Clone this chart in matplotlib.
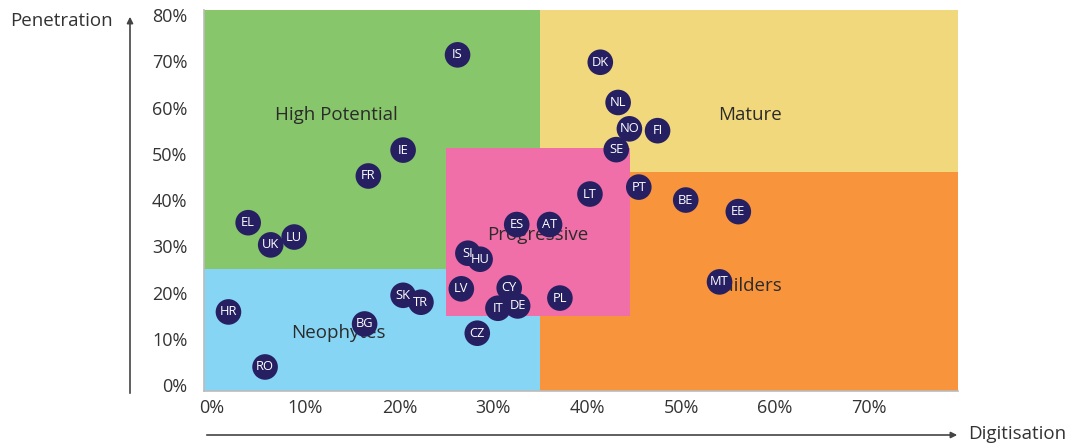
import matplotlib.pyplot as plt
from matplotlib.patches import Rectangle
from matplotlib.ticker import FuncFormatter

plt.rcParams['font.family'] = ['Open Sans', 'DejaVu Sans']

# Country positions: digitisation (x, %) vs penetration (y, %)
countries = ['IS', 'DK', 'NL', 'NO', 'FI', 'SE', 'IE', 'FR', 'LT', 'PT', 'BE', 'EE',
             'EL', 'UK', 'LU', 'ES', 'AT', 'SI', 'HU', 'LV', 'CY', 'IT', 'DE', 'PL',
             'CZ', 'MT', 'HR', 'RO', 'BG', 'SK', 'TR']
digitisation = [26.2, 41.4, 43.3, 44.5, 47.5, 43.1, 20.4, 16.7, 40.3, 45.5, 50.5, 56.1,
                3.9, 6.3, 8.8, 32.5, 36.0, 27.3, 28.6, 26.6, 31.7, 30.5, 32.6, 37.1,
                28.3, 54.1, 1.8, 5.7, 16.3, 20.4, 22.3]
penetration = [71.4, 69.8, 61.1, 55.4, 55.0, 50.9, 50.8, 45.2, 41.3, 42.8, 40.0, 37.5,
               35.1, 30.3, 32.0, 34.7, 34.7, 28.5, 27.2, 20.8, 21.0, 16.6, 17.1, 18.8,
               11.2, 22.3, 15.8, 3.9, 13.2, 19.4, 17.9]

# Segments: name, x range, y range, colour, label position
segments = ['High Potential', 'Mature', 'Builders', 'Neophytes', 'Progressive']
seg_x = [(-0.8, 35), (35, 79.5), (35, 79.5), (-0.8, 35), (25, 44.6)]
seg_y = [(25, 81.1), (46, 81.1), (-1.3, 46), (-1.3, 25), (15, 51.2)]
seg_colors = ['#87C66B', '#F2D87C', '#F7943C', '#87D5F5', '#F16FA9']
seg_label_pos = [(13.3, 58.4), (57.3, 58.4), (56.9, 21.4), (13.5, 11.2), (34.7, 32.4)]

fig = plt.figure(figsize=(10.75, 4.48), dpi=100)
ax = fig.add_axes([0.1898, 0.1272, 0.7014, 0.8505])

for name, (x0, x1), (y0, y1), c, (lx, ly) in zip(segments, seg_x, seg_y, seg_colors, seg_label_pos):
    ax.add_patch(Rectangle((x0, y0), x1 - x0, y1 - y0, facecolor=c, edgecolor='none', zorder=1))
    ax.text(lx, ly, name, ha='center', va='center', fontsize=13.5, color='#2b2b2b', zorder=2)

ax.scatter(digitisation, penetration, s=340, color='#262063', edgecolors='none', zorder=3)
for name, x, y in zip(countries, digitisation, penetration):
    ax.text(x, y, name, ha='center', va='center', fontsize=9.3, color='white', zorder=4)

ax.set_xlim(-0.8, 79.5)
ax.set_ylim(-1.3, 81.1)
ax.set_xticks(range(0, 80, 10))
ax.set_yticks(range(0, 90, 10))
pct = FuncFormatter(lambda v, _: f'{v:.0f}%')
ax.xaxis.set_major_formatter(pct)
ax.yaxis.set_major_formatter(pct)
ax.tick_params(length=0, labelsize=13, colors='#333333')
ax.tick_params(axis='y', pad=12)
ax.tick_params(axis='x', pad=6)
for side in ['top', 'right']:
    ax.spines[side].set_visible(False)
for side in ['left', 'bottom']:
    ax.spines[side].set_color('#bbbbbb')
    ax.spines[side].set_linewidth(1.2)

# Axis arrows drawn outside the plot area
arrow = dict(arrowstyle='-|>', color='#444444', lw=1.2, mutation_scale=9)
ax.annotate('', xy=(130 / 1075, 1 - 14 / 448), xytext=(130 / 1075, 1 - 396 / 448),
            xycoords='figure fraction', textcoords='figure fraction', arrowprops=arrow,
            annotation_clip=False)
ax.annotate('', xy=(960 / 1075, 1 - 435 / 448), xytext=(204 / 1075, 1 - 435 / 448),
            xycoords='figure fraction', textcoords='figure fraction', arrowprops=arrow,
            annotation_clip=False)
fig.text(10 / 1075, 1 - 21 / 448, 'Penetration', ha='left', va='center', fontsize=13.5, color='#333333')
fig.text(968 / 1075, 1 - 434 / 448, 'Digitisation', ha='left', va='center', fontsize=13.5, color='#333333')

fig.savefig('out.png', dpi=100)
